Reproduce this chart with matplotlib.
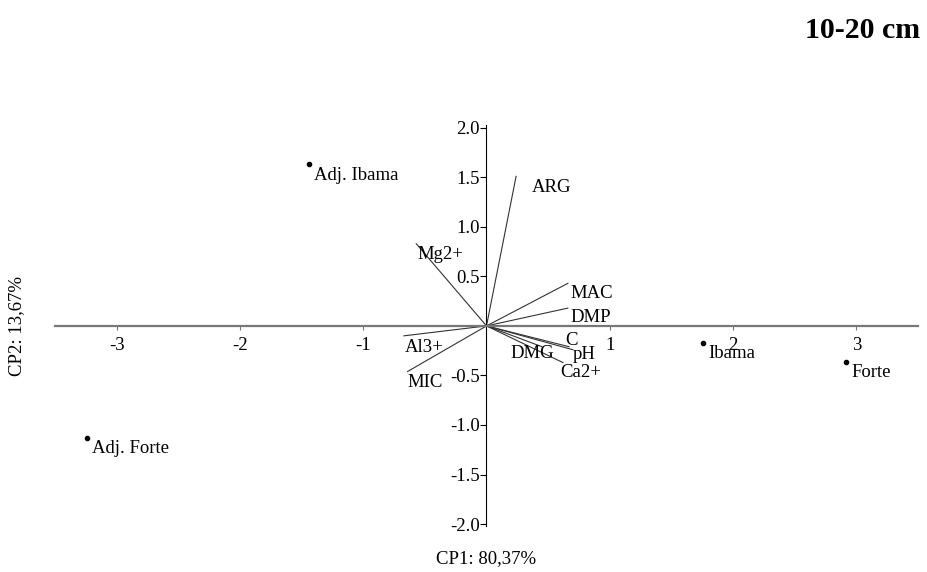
import matplotlib.pyplot as plt
import numpy as np

plt.rcParams['font.family'] = ['Liberation Serif', 'DejaVu Serif']

# scores (CP1, CP2)
sites = ['Adj. Ibama', 'Adj. Forte', 'Ibama', 'Forte']
site_x = [-1.44, -3.24, 1.76, 2.92]
site_y = [1.63, -1.13, -0.17, -0.36]

# loadings
variables = ['ARG', 'Mg2+', 'MAC', 'DMP', 'C', 'pH', 'Ca2+', 'DMG', 'Al3+', 'MIC']
load_x = [0.24, -0.57, 0.66, 0.66, 0.67, 0.70, 0.62, 0.45, -0.67, -0.64]
load_y = [1.51, 0.83, 0.43, 0.18, -0.21, -0.24, -0.37, -0.21, -0.10, -0.46]

# label offsets in points (layout only)
label_off = {'ARG': (11.5, -2), 'Mg2+': (1, -2), 'MAC': (2, -1), 'DMP': (2, -1),
             'C': (-3, 10.5), 'pH': (0, 3), 'Ca2+': (-2, -1), 'DMG': (-22.5, 1),
             'Al3+': (1, -2), 'MIC': (0, -2)}

fig = plt.figure(figsize=(9.28, 5.72), dpi=100)
ax = fig.add_axes([55 / 928, 0.0752, 863 / 928, 0.710])

for name, lx, ly in zip(variables, load_x, load_y):
    ax.plot([0, lx], [0, ly], color='#333333', lw=0.8)
    ax.annotate(name, (lx, ly), xytext=label_off[name], textcoords='offset points',
                ha='left', va='top', fontsize=13.5)

ax.scatter(site_x, site_y, s=9, color='black', zorder=3)
for name, sx, sy in zip(sites, site_x, site_y):
    ax.annotate(name, (sx, sy), xytext=(3.5, -1.5), textcoords='offset points',
                ha='left', va='top', fontsize=13.5)

ax.set_xlim(-3.5, 3.5)
ax.set_ylim(-2.05, 2.05)
ax.spines['left'].set_position('zero')
ax.spines['bottom'].set_position('zero')
ax.spines['right'].set_visible(False)
ax.spines['top'].set_visible(False)
ax.spines['left'].set_bounds(-2.02, 2.03)
ax.spines['left'].set_linewidth(0.8)
ax.spines['bottom'].set_color('#777777')
ax.spines['bottom'].set_linewidth(1.6)

xt = [-3, -2, -1, 1, 2, 3]
yt = [-2.0, -1.5, -1.0, -0.5, 0.5, 1.0, 1.5, 2.0]
ax.set_xticks(xt)
ax.set_xticklabels([str(v) for v in xt])
ax.set_yticks(yt)
ax.set_yticklabels([f'{v:.1f}' for v in yt])
ax.tick_params(labelsize=13.5, length=4, width=0.8, pad=1)
ax.tick_params(axis='x', color='#777777', length=3, pad=5)

fig.text(486 / 928, 1 - 559 / 572, 'CP1: 80,37%', ha='center', va='center', fontsize=13.5)
fig.text(17 / 928, 1 - 326 / 572, 'CP2: 13,67%', ha='center', va='center',
         rotation=90, fontsize=13.5)
fig.text(920 / 928, 1 - 31 / 572, '10-20 cm', ha='right', va='center',
         fontsize=21.5, fontweight='bold')

fig.savefig('out.png', dpi=100)
